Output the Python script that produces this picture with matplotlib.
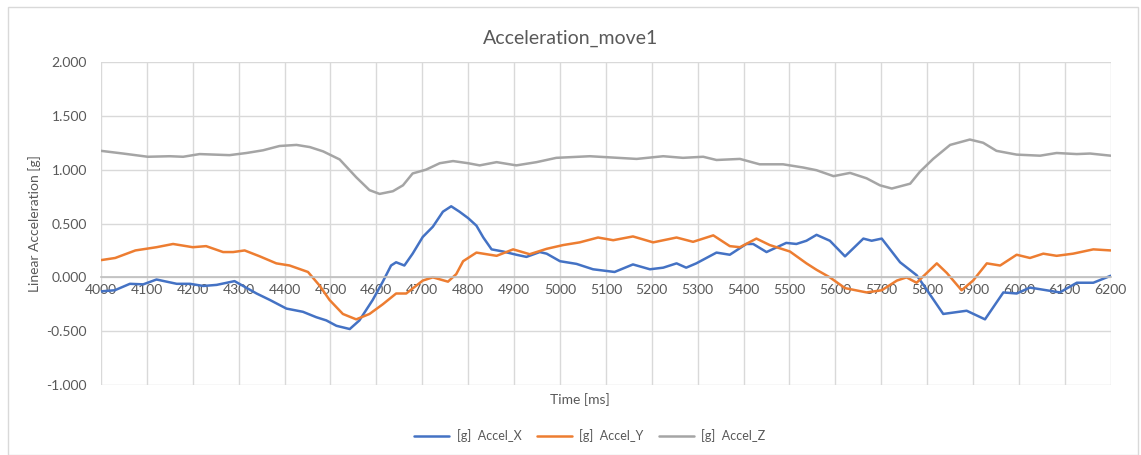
import numpy as np
import matplotlib
matplotlib.use("Agg")
import matplotlib.pyplot as plt
from matplotlib.patches import Rectangle
from matplotlib.ticker import FormatStrFormatter

# values
t_x = [4000, 4030, 4063, 4092, 4121, 4165, 4194, 4223, 4252, 4291, 4339, 4368, 4404, 4440,
       4469, 4491, 4513, 4542, 4563, 4592, 4614, 4632, 4643, 4661, 4679, 4701, 4723, 4745,
       4763, 4781, 4800, 4818, 4833, 4851, 4876, 4905, 4927, 4956, 4971, 5000, 5036, 5072,
       5119, 5159, 5196, 5225, 5254, 5275, 5297, 5341, 5370, 5406, 5421, 5450, 5493, 5515,
       5537, 5559, 5588, 5621, 5661, 5679, 5701, 5741, 5777, 5795, 5835, 5886, 5926, 5966,
       5995, 6024, 6089, 6126, 6162, 6200]
accel_x = [-0.13, -0.12, -0.06, -0.065, -0.02, -0.06, -0.06, -0.08, -0.07, -0.035, -0.15,
           -0.21, -0.29, -0.32, -0.37, -0.40, -0.45, -0.48, -0.40, -0.21, -0.04, 0.11, 0.14,
           0.11, 0.22, 0.375, 0.47, 0.61, 0.66, 0.61, 0.55, 0.48, 0.37, 0.26, 0.24, 0.21,
           0.19, 0.235, 0.22, 0.15, 0.125, 0.075, 0.05, 0.12, 0.075, 0.09, 0.13, 0.09, 0.13,
           0.23, 0.21, 0.31, 0.31, 0.235, 0.32, 0.31, 0.34, 0.395, 0.34, 0.195, 0.36, 0.34,
           0.36, 0.14, 0.02, -0.09, -0.34, -0.31, -0.39, -0.14, -0.15, -0.095, -0.14, -0.05,
           -0.05, 0.015]

t_y = [4000, 4031, 4075, 4121, 4157, 4200, 4229, 4266, 4288, 4313, 4346, 4382, 4411, 4451,
       4476, 4498, 4527, 4556, 4585, 4614, 4643, 4665, 4701, 4723, 4756, 4774, 4789, 4818,
       4862, 4898, 4934, 4971, 5007, 5043, 5083, 5116, 5159, 5203, 5254, 5290, 5334, 5370,
       5392, 5428, 5457, 5501, 5537, 5559, 5588, 5621, 5668, 5701, 5734, 5755, 5777, 5821,
       5843, 5875, 5900, 5930, 5959, 5995, 6024, 6053, 6082, 6118, 6162, 6200]
accel_y = [0.16, 0.18, 0.25, 0.28, 0.31, 0.28, 0.29, 0.235, 0.235, 0.25, 0.195, 0.13, 0.11,
           0.05, -0.075, -0.21, -0.34, -0.39, -0.34, -0.25, -0.15, -0.15, -0.03, 0.0, -0.04,
           0.03, 0.15, 0.23, 0.2, 0.26, 0.215, 0.265, 0.30, 0.325, 0.37, 0.345, 0.38, 0.325,
           0.37, 0.33, 0.39, 0.29, 0.28, 0.36, 0.30, 0.24, 0.13, 0.07, 0.0, -0.10, -0.14,
           -0.12, -0.03, 0.0, -0.05, 0.13, 0.04, -0.12, -0.03, 0.13, 0.11, 0.21, 0.18, 0.22,
           0.2, 0.22, 0.26, 0.25]

t_z = [4000, 4048, 4102, 4150, 4179, 4215, 4280, 4317, 4353, 4389, 4426, 4455, 4484, 4520,
       4556, 4585, 4607, 4636, 4658, 4679, 4708, 4738, 4767, 4800, 4825, 4862, 4905, 4949,
       4992, 5065, 5167, 5225, 5268, 5312, 5341, 5392, 5435, 5486, 5530, 5559, 5596, 5632,
       5668, 5697, 5723, 5763, 5784, 5813, 5850, 5893, 5922, 5951, 5995, 6046, 6082, 6126,
       6155, 6200]
accel_z = [1.175, 1.15, 1.12, 1.125, 1.12, 1.145, 1.135, 1.155, 1.18, 1.22, 1.23, 1.21,
           1.17, 1.095, 0.93, 0.81, 0.775, 0.80, 0.855, 0.965, 1.0, 1.06, 1.08, 1.06, 1.04,
           1.07, 1.04, 1.07, 1.11, 1.125, 1.10, 1.125, 1.11, 1.12, 1.09, 1.10, 1.05, 1.05,
           1.02, 0.995, 0.94, 0.97, 0.92, 0.855, 0.825, 0.87, 0.98, 1.10, 1.23, 1.28, 1.25,
           1.175, 1.14, 1.13, 1.155, 1.145, 1.15, 1.13]

txt = '#595959'
plt.rcParams['font.family'] = ['Lato', 'DejaVu Sans']

fig = plt.figure(figsize=(11.41, 4.55), dpi=100)
ax = fig.add_axes([0.0885, 0.1538, 0.885, 0.7099])

kw = dict(lw=1.8, solid_joinstyle='round', solid_capstyle='round')
ax.plot(t_x, accel_x, color='#4472C4', label='[g]  Accel_X', **kw)
ax.plot(t_y, accel_y, color='#ED7D31', label='[g]  Accel_Y', **kw)
ax.plot(t_z, accel_z, color='#A5A5A5', label='[g]  Accel_Z', **kw)

ax.set_xlim(4000, 6200)
ax.set_ylim(-1, 2)
ax.set_xticks(np.arange(4000, 6201, 100))
ax.set_yticks(np.arange(-1, 2.01, 0.5))
ax.yaxis.set_major_formatter(FormatStrFormatter('%.3f'))
ax.grid(True, color='#d9d9d9', lw=1)
ax.set_axisbelow(True)

for s in ['top', 'right', 'left']:
    ax.spines[s].set_visible(False)
ax.spines['bottom'].set_position(('data', 0))
ax.spines['bottom'].set_color('#bfbfbf')
ax.spines['bottom'].set_linewidth(1.2)
ax.tick_params(length=0, labelsize=10, colors=txt)
ax.tick_params(axis='x', pad=5)
ax.tick_params(axis='y', pad=10)

ax.set_ylabel('Linear Acceleration [g]', fontsize=10, color=txt)
fig.text(0.5, 0.915, 'Acceleration_move1', ha='center', va='center', fontsize=14, color=txt)
fig.text(0.508, 0.112, 'Time [ms]', ha='center', fontsize=10, color=txt)

fig.legend(loc='center', bbox_to_anchor=(0.517, 0.042), ncol=3, frameon=False,
           fontsize=9, labelcolor=txt, handlelength=2.8, columnspacing=1.2, handletextpad=0.6)

fig.patches.append(Rectangle((0.007, 0.0), 0.99, 0.985, transform=fig.transFigure,
                             fill=False, edgecolor='#d9d9d9', lw=1))

fig.savefig('out.png', dpi=100)
